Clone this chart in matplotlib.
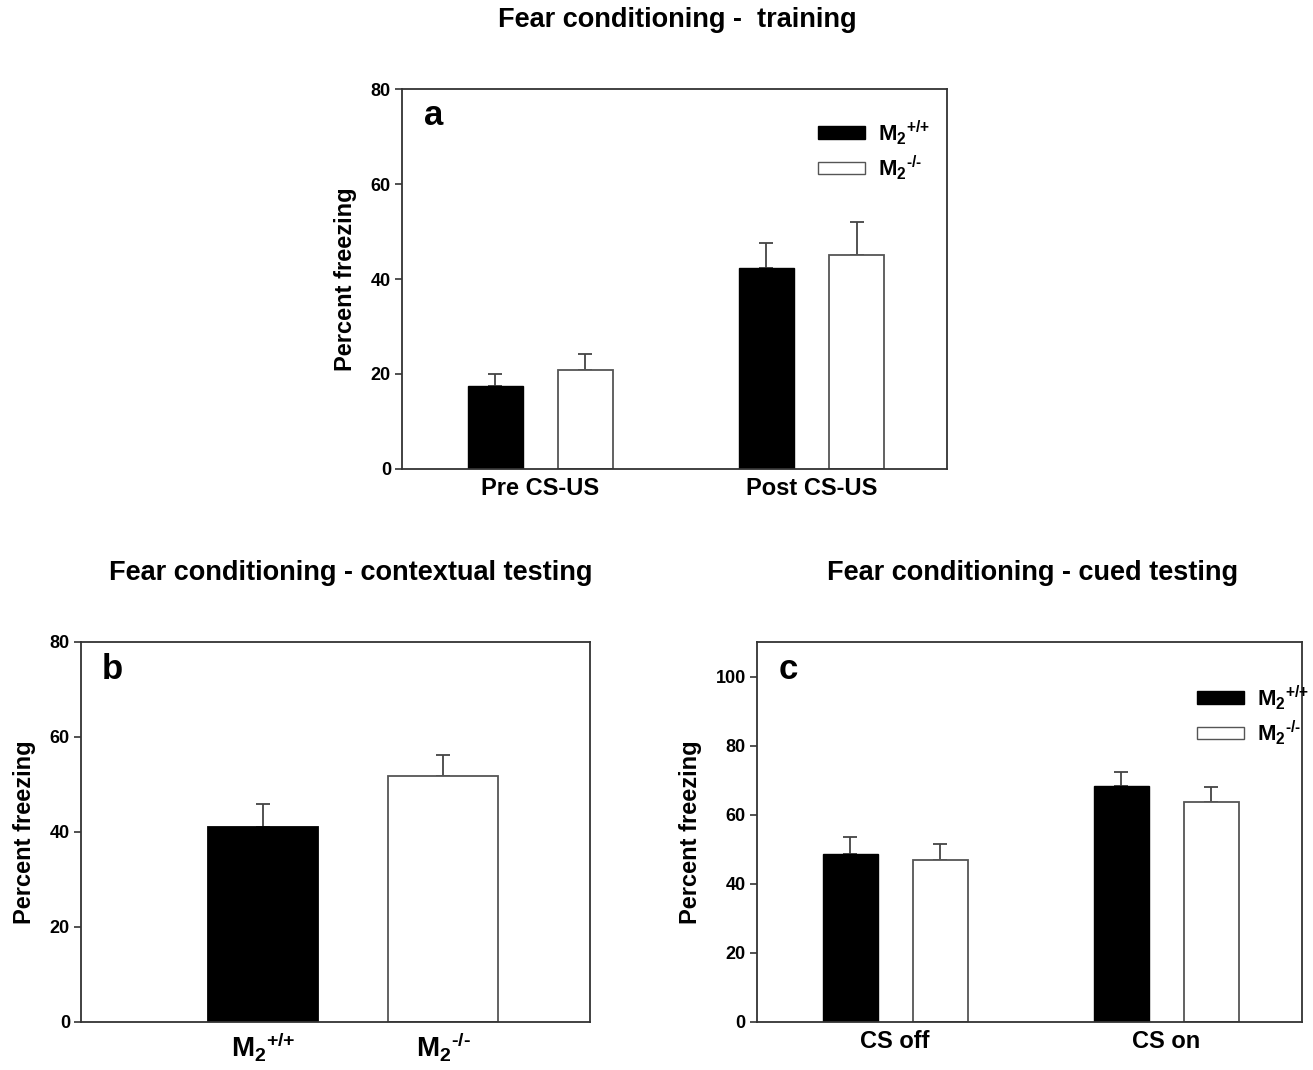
import matplotlib
matplotlib.use("Agg")
import matplotlib.pyplot as plt
import numpy as np

# data (mean, upper error bar)
train_groups = ["Pre CS-US", "Post CS-US"]
train_wt = [17.4, 42.4]
train_wt_err = [2.7, 5.1]
train_ko = [20.8, 45.1]
train_ko_err = [3.4, 7.0]

context_labels = [r"$M_2{}^{\text{+/+}}$", r"$M_2{}^{\text{-/-}}$"]
context_vals = [41.0, 51.8]
context_err = [4.9, 4.5]

cued_groups = ["CS off", "CS on"]
cued_wt = [48.7, 68.3]
cued_wt_err = [4.8, 4.2]
cued_ko = [46.8, 63.7]
cued_ko_err = [4.7, 4.2]

legend_labels = [r"$M_2{}^{\text{+/+}}$", r"$M_2{}^{\text{-/-}}$"]

plt.rcParams["font.family"] = ["Liberation Sans", "DejaVu Sans"]
plt.rcParams["font.weight"] = "bold"
plt.rcParams["mathtext.fontset"] = "custom"
plt.rcParams["mathtext.rm"] = "Liberation Sans:bold"
plt.rcParams["mathtext.bf"] = "Liberation Sans:bold"
plt.rcParams["mathtext.default"] = "bf"

AX_COL = "#333333"
EDGE = "#555555"
ERR = "#444444"

fig = plt.figure(figsize=(13.13, 10.70), dpi=100)


def style_axes(ax, ymax, yticks):
    ax.set_ylim(0, ymax)
    ax.set_yticks(yticks)
    for s in ax.spines.values():
        s.set_color(AX_COL)
        s.set_linewidth(1.3)
    ax.tick_params(axis="y", direction="out", length=5, width=1.2, color=AX_COL, pad=3)
    ax.tick_params(axis="x", length=0, pad=6)
    for lab in ax.get_yticklabels():
        lab.set_fontsize(13)
        lab.set_fontweight("bold")
    ax.set_ylabel("Percent freezing", fontsize=17, fontweight="bold", labelpad=10)


def grouped(ax, groups, wt, wt_err, ko, ko_err, leg_xy):
    x = np.arange(1, len(groups) + 1)
    off, w = 0.166, 0.203
    ax.bar(x - off, wt, w, color="black", edgecolor="black", label=legend_labels[0], zorder=2)
    ax.bar(x + off, ko, w, color="white", edgecolor=EDGE, linewidth=1.3,
           label=legend_labels[1], zorder=2)
    ax.errorbar(x - off, wt, yerr=[np.zeros(len(wt)), wt_err], fmt="none",
                ecolor=ERR, elinewidth=1.3, capsize=5, capthick=1.3, zorder=1)
    ax.errorbar(x + off, ko, yerr=[np.zeros(len(ko)), ko_err], fmt="none",
                ecolor=ERR, elinewidth=1.3, capsize=5, capthick=1.3, zorder=1)
    ax.set_xlim(0.49, 2.50)
    ax.set_xticks(x)
    ax.set_xticklabels(groups, fontsize=17, fontweight="bold")
    leg = ax.legend(loc="upper left", bbox_to_anchor=leg_xy, frameon=False,
                    fontsize=16, handlelength=2.1, handleheight=0.5,
                    handletextpad=0.6, labelspacing=0.3)
    for p in leg.get_patches():
        p.set_linewidth(1.0)


# panel a
ax_a = fig.add_axes([0.3062, 0.5617, 0.4151, 0.3551])
grouped(ax_a, train_groups, train_wt, train_wt_err, train_ko, train_ko_err, (0.727, 0.976))
style_axes(ax_a, 80, [0, 20, 40, 60, 80])
ax_a.text(0.04, 0.975, "a", transform=ax_a.transAxes, fontsize=25, fontweight="bold", va="top")

# panel b
ax_b = fig.add_axes([0.0617, 0.0449, 0.3877, 0.3551])
xb = np.arange(1, len(context_vals) + 1)
ax_b.bar(xb, context_vals, 0.61, color=["black", "white"], edgecolor=["black", EDGE],
         linewidth=1.3, zorder=2)
ax_b.errorbar(xb, context_vals, yerr=[np.zeros(len(context_vals)), context_err], fmt="none",
              ecolor=ERR, elinewidth=1.3, capsize=5, capthick=1.3, zorder=1)
ax_b.set_xlim(-0.01, 2.815)
ax_b.set_xticks(xb)
ax_b.set_xticklabels(context_labels, fontsize=20)
style_axes(ax_b, 80, [0, 20, 40, 60, 80])
ax_b.text(0.04, 0.97, "b", transform=ax_b.transAxes, fontsize=25, fontweight="bold", va="top")

# panel c
ax_c = fig.add_axes([0.5765, 0.0449, 0.4151, 0.3551])
grouped(ax_c, cued_groups, cued_wt, cued_wt_err, cued_ko, cued_ko_err, (0.771, 0.945))
style_axes(ax_c, 110, [0, 20, 40, 60, 80, 100])
ax_c.text(0.04, 0.97, "c", transform=ax_c.transAxes, fontsize=25, fontweight="bold", va="top")

# titles
fig.text(677 / 1313, 1 - 20 / 1070, "Fear conditioning -  training", ha="center", va="center",
         fontsize=19.5, fontweight="bold")
fig.text(351 / 1313, 1 - 573 / 1070, "Fear conditioning - contextual testing", ha="center",
         va="center", fontsize=19.5, fontweight="bold")
fig.text(1033 / 1313, 1 - 573 / 1070, "Fear conditioning - cued testing", ha="center",
         va="center", fontsize=19.5, fontweight="bold")

fig.savefig("out.png", dpi=100, facecolor="white")
